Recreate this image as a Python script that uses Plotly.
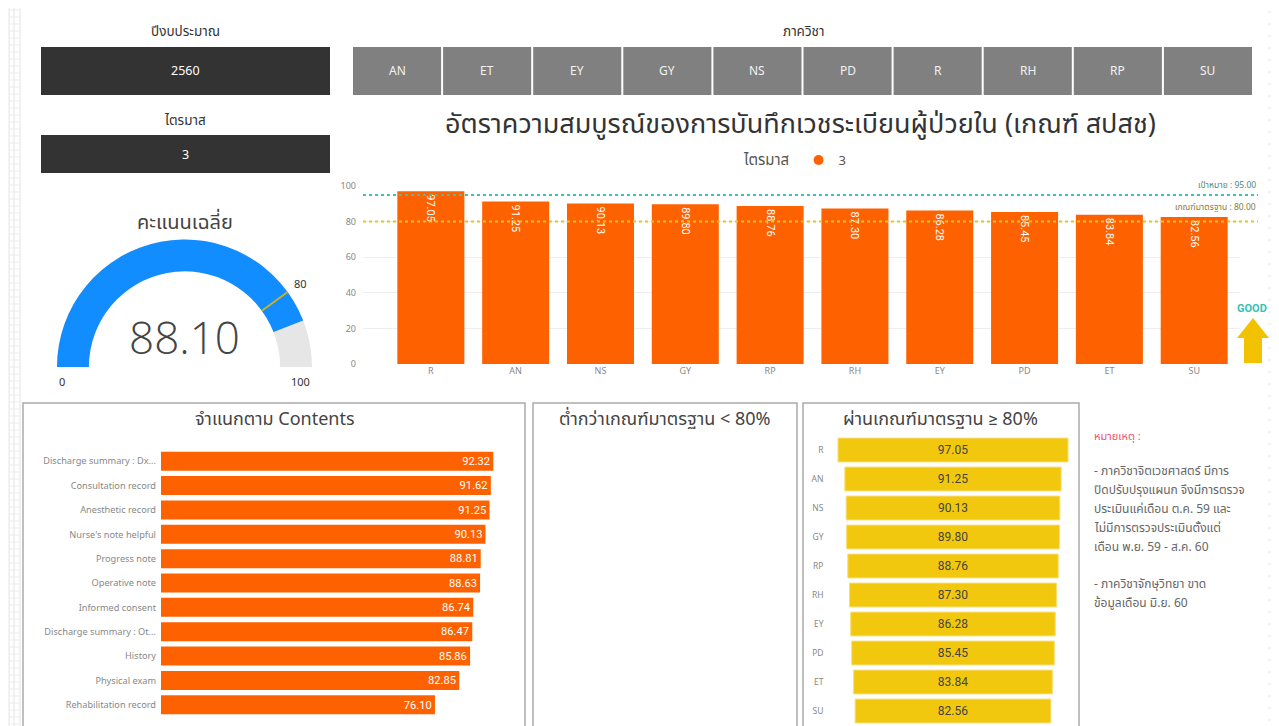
import plotly.graph_objects as go

W, H = 1279, 726
OFF = 8  # default page margin of the browser body
FW, FH = W - OFF, H - OFF
def fx(x):
    return (x - OFF) / FW
def fy(y):
    return 1 - (y - OFF) / FH

# ---------------- data ----------------
fiscal_year_label = "ปีงบประมาณ"
fiscal_year = "2560"
quarter_label = "ไตรมาส"
quarter = "3"
dept_slicer_label = "ภาควิชา"
dept_buttons = ["AN", "ET", "EY", "GY", "NS", "PD", "R", "RH", "RP", "SU"]

main_title = "อัตราความสมบูรณ์ของการบันทึกเวชระเบียนผู้ป่วยใน (เกณฑ์ สปสช)"
dept_order = ["R", "AN", "NS", "GY", "RP", "RH", "EY", "PD", "ET", "SU"]
dept_values = [97.05, 91.25, 90.13, 89.80, 88.76, 87.30, 86.28, 85.45, 83.84, 82.56]
y_ticks = [0, 20, 40, 60, 80, 100]
target_value = 95.00
standard_value = 80.00
target_label = "เป้าหมาย : 95.00"
standard_label = "เกณฑ์มาตรฐาน : 80.00"

gauge_title = "คะแนนเฉลี่ย"
avg_score = 88.10
gauge_min = 0
gauge_max = 100
gauge_target = 80

contents_title = "จำแนกตาม Contents"
content_labels = [
    "Discharge summary : Dx...", "Consultation record", "Anesthetic record",
    "Nurse's note helpful", "Progress note", "Operative note", "Informed consent",
    "Discharge summary : Ot...", "History", "Physical exam", "Rehabilitation record",
]
content_values = [92.32, 91.62, 91.25, 90.13, 88.81, 88.63, 86.74, 86.47, 85.86, 82.85, 76.10]

below_title = "ต่ำกว่าเกณฑ์มาตรฐาน < 80%"
pass_title = "ผ่านเกณฑ์มาตรฐาน ≥ 80%"

note_title = "หมายเหตุ :"
note_lines = [
    "- ภาควิชาจิตเวชศาสตร์ มีการ",
    "ปิดปรับปรุงแผนก จึงมีการตรวจ",
    "ประเมินแค่เดือน ต.ค. 59 และ",
    "ไม่มีการตรวจประเมินตั้งแต่",
    "เดือน พ.ย. 59 - ส.ค. 60",
    "",
    "- ภาควิชาจักษุวิทยา ขาด",
    "ข้อมูลเดือน มิ.ย. 60",
]

# ---------------- styles ----------------
FONT = "Noto Sans Thai, Noto Sans, Roboto, sans-serif"
ORANGE = "#FE6200"
YELLOW = "#F2C80F"
TEAL = "#36C2B4"

fig = go.Figure()

# main bar chart
fig.add_trace(go.Bar(
    x=dept_order, y=dept_values, marker=dict(color=ORANGE, line=dict(width=0)),
    width=0.79, texttemplate="%{y:.2f}", textposition="inside",
    insidetextanchor="end", textangle=90,
    textfont=dict(color="white", size=11, family="Roboto, sans-serif"),
    showlegend=False, xaxis="x", yaxis="y", hoverinfo="x+y",
))
# legend item
fig.add_trace(go.Scatter(
    x=[None], y=[None], mode="markers", name=quarter,
    marker=dict(color=ORANGE, size=10, symbol="circle"),
    xaxis="x", yaxis="y", showlegend=True,
))

# contents bars
fig.add_trace(go.Bar(
    y=content_labels, x=content_values, orientation="h",
    marker=dict(color=ORANGE, line=dict(width=0)), width=0.78,
    texttemplate="%{x:.2f}", textposition="inside", insidetextanchor="end",
    textfont=dict(color="white", size=12, family="Roboto, sans-serif"),
    showlegend=False, xaxis="x2", yaxis="y2",
))

# funnel
fig.add_trace(go.Funnel(
    y=dept_order, x=dept_values, width=0.82,
    marker=dict(color=YELLOW, line=dict(width=1, color="#F7DC6F")),
    texttemplate="%{x:.2f}", textposition="inside", insidetextanchor="middle",
    textfont=dict(color="#444444", size=12, family="Roboto, sans-serif"),
    connector=dict(visible=False), showlegend=False, xaxis="x3", yaxis="y3",
))

# gauge
fig.add_trace(go.Indicator(
    mode="gauge+number", value=avg_score,
    number=dict(valueformat=".2f", font=dict(size=44, color="#444444",
                                               family="Open Sans, sans-serif", weight=300)),
    domain=dict(x=[fx(57), fx(312)], y=[fy(367), fy(239.5)]),
    gauge=dict(
        shape="angular",
        axis=dict(range=[gauge_min, gauge_max], visible=False),
        bar=dict(color="#118DFF", thickness=1, line=dict(width=0)),
        bgcolor="#E6E6E6", borderwidth=0,
        threshold=dict(line=dict(color="#C9B02A", width=2), thickness=1, value=gauge_target),
    ),
))

main_y0, main_y1 = 364, 186
layout = dict(
    template="none",
    width=FW, height=FH, autosize=False,
    margin=dict(l=0, r=0, t=0, b=0, pad=0),
    paper_bgcolor="white", plot_bgcolor="white",
    font=dict(family=FONT, color="#444444"),
    barmode="overlay",
    xaxis=dict(domain=[fx(363), fx(1240)], range=[-0.80, 9.54], type="category",
               showgrid=False, zeroline=False, showline=False, ticks="", automargin=False,
               tickfont=dict(size=9, color="#888888"), fixedrange=True),
    yaxis=dict(domain=[fy(main_y0), fy(main_y1)], range=[0, 100], tickvals=y_ticks,
               showgrid=True, gridcolor="#EEEEEE", zeroline=False, showline=False, automargin=False,
               tickfont=dict(size=9, color="#888888"), ticks="", ticklabelstandoff=6),
    xaxis2=dict(domain=[fx(161), fx(521)], range=[0, 100], visible=False, anchor="y2",
                automargin=False),
    yaxis2=dict(domain=[fy(717), fy(449)], autorange="reversed", anchor="x2", automargin=False,
                showgrid=False, zeroline=False, showline=False, ticks="",
                tickfont=dict(size=9.2, color="#888888"), ticklabelstandoff=4),
    xaxis3=dict(domain=[fx(834.5), fx(1071.5)], range=[-50, 50], visible=False, anchor="y3",
                automargin=False),
    yaxis3=dict(domain=[fy(725.5), fy(435.5)], autorange="reversed", anchor="x3", automargin=False,
                showgrid=False, zeroline=False, showline=False, ticks="",
                tickfont=dict(size=8.5, color="#888888"), ticklabelstandoff=10),
    legend=dict(orientation="h", x=fx(742), y=fy(160), xanchor="left", yanchor="middle",
                title=dict(text=quarter_label, font=dict(size=15, color="#555555")),
                font=dict(size=13, color="#555555"), bgcolor="rgba(0,0,0,0)",
                itemwidth=30, tracegroupgap=0),
)
fig.update_layout(**layout)

shapes = []
ann = []

def text(t, x, y, size, color, xanchor="center", yanchor="middle", xref="paper", yref="paper",
         family=None):
    f = dict(size=size, color=color)
    if family:
        f["family"] = family
    ann.append(dict(text=t, x=x, y=y, xref=xref, yref=yref, xanchor=xanchor, yanchor=yanchor,
                    showarrow=False, font=f))

# left canvas grid strip
for xv in [9, 14, 20]:
    shapes.append(dict(type="line", xref="paper", yref="paper", x0=fx(xv), x1=fx(xv),
                       y0=0, y1=1, line=dict(color="#E4E4E4", width=1)))
for yv in range(10, 726, 7):
    shapes.append(dict(type="line", xref="paper", yref="paper", x0=fx(9), x1=fx(20),
                       y0=fy(yv), y1=fy(yv), line=dict(color="#ECECEC", width=1)))
for yv in range(12, 726, 12):
    shapes.append(dict(type="line", xref="paper", yref="paper", x0=fx(1268), x1=fx(1275),
                       y0=fy(yv), y1=fy(yv), line=dict(color="#E8E8E8", width=1)))

# slicer: fiscal year
text(fiscal_year_label, fx(185), fy(32), 13.5, "#333333")
shapes.append(dict(type="rect", xref="paper", yref="paper", x0=fx(41), x1=fx(330),
                   y0=fy(95), y1=fy(47), fillcolor="#333333", line=dict(width=0)))
text(fiscal_year, fx(185), fy(71), 12.5, "white")
# slicer: quarter
text(quarter_label, fx(185), fy(121), 13.5, "#333333")
shapes.append(dict(type="rect", xref="paper", yref="paper", x0=fx(41), x1=fx(330),
                   y0=fy(173), y1=fy(135), fillcolor="#333333", line=dict(width=0)))
text(quarter, fx(185), fy(155), 12.5, "white")

# slicer: departments
text(dept_slicer_label, fx(803), fy(32), 13.5, "#333333")
bx0, bx1 = 352, 1253
bw = (bx1 - bx0) / len(dept_buttons)
for i, d in enumerate(dept_buttons):
    x0 = bx0 + i * bw
    shapes.append(dict(type="rect", xref="paper", yref="paper", x0=fx(x0 + 1), x1=fx(x0 + bw - 1),
                       y0=fy(95), y1=fy(47), fillcolor="#808080", line=dict(width=0)))
    text(d, fx(x0 + bw / 2), fy(71), 12, "#F2F2F2")

# main title
text(main_title, fx(800), fy(124), 27, "#333333")

# reference lines
for val, col in [(target_value, TEAL), (standard_value, "#E6C619")]:
    shapes.append(dict(type="line", xref="paper", yref="y", x0=fx(363), x1=fx(1258),
                       y0=val, y1=val, line=dict(color=col, width=2, dash="dot")))
text(target_label, fx(1258), target_value + 0.5, 8.5, "#4E8A84", xanchor="right",
     yanchor="bottom", yref="y")
text(standard_label, fx(1258), standard_value + 3, 8.5, "#8A7A30", xanchor="right",
     yanchor="bottom", yref="y")

# GOOD arrow
text("<b>GOOD</b>", fx(1252), fy(308), 11, TEAL, family="Roboto, sans-serif")
ap = [(1253, 318), (1269, 338), (1262, 338), (1262, 363), (1244, 363), (1244, 338), (1237, 338)]
path = "M " + " L ".join(f"{fx(a)},{fy(b)}" for a, b in ap) + " Z"
shapes.append(dict(type="path", xref="paper", yref="paper", path=path,
                   fillcolor="#F2C200", line=dict(width=0)))

# gauge annotations
text(gauge_title, fx(185), fy(223), 20, "#444444")
text(str(gauge_min), fx(62), fy(382), 11, "#333333")
text(str(gauge_max), fx(300), fy(382), 11, "#333333")
text(str(gauge_target), fx(300), fy(284), 11, "#333333")

# panels
for (x0, x1, title, tx) in [(23, 525, contents_title, 275), (533, 797, below_title, 664),
                            (803, 1079, pass_title, 941)]:
    shapes.append(dict(type="rect", xref="paper", yref="paper", x0=fx(x0), x1=fx(x1),
                       y0=fy(735), y1=fy(403), line=dict(color="#AAAAAA", width=1.5),
                       fillcolor="rgba(0,0,0,0)"))
    text(title, fx(tx), fy(419), 18, "#444444")

# notes
text(note_title, fx(1092), fy(436), 11, "#F0506E", xanchor="left")
for i, line in enumerate(note_lines):
    if line:
        text(line, fx(1092), fy(471 + i * 18.9), 12, "#666666", xanchor="left")

fig.update_layout(shapes=shapes, annotations=ann)
fig.write_html("out.html")
